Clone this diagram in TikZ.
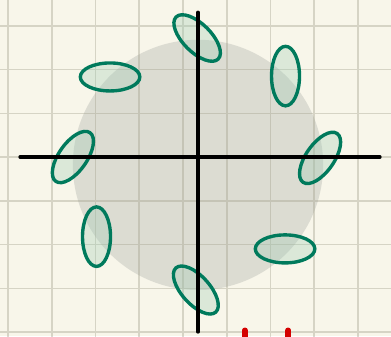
\documentclass[tikz,border=0pt]{standalone}
\usepackage{xcolor}
\usepackage{tikz}
\usetikzlibrary{shapes.geometric, positioning}
\definecolor{paper}{HTML}{F8F6EA}
\definecolor{gridcolor}{HTML}{A09E8A}
\definecolor{diskcolor}{HTML}{DCDCD2}
\definecolor{ringgreen}{HTML}{007A5C}
\definecolor{ringfill}{HTML}{9ECBB5}
\definecolor{markred}{HTML}{D40000}

\begin{document}
\begin{tikzpicture}[
    blob/.style={ellipse, draw=ringgreen, fill=ringfill, fill opacity=0.32,
                 line width=2.2pt, minimum width=1.36cm, minimum height=0.64cm,
                 inner sep=0pt},
    axis/.style={line width=2.1pt, line cap=round, color=black},
    gridline/.style={line width=1pt, color=gridcolor, opacity=0.38},
    redstroke/.style={line width=3.6pt, line cap=round, color=markred}
]

% Frame
\useasboundingbox (-4.526,-4.091) rectangle (4.411,3.589);
\clip (-4.526,-4.091) rectangle (4.411,3.589);
\fill[paper] (-4.526,-4.091) rectangle (4.411,3.589);

% Disk
\fill[diskcolor] (0,-0.18) circle (2.86cm);

% Grid
\draw[gridline, xshift=0.657cm] (-6,-5) grid (5,4);

% Ellipses
\node[blob, rotate=-45] (top) at (-0.02,2.72) {};
\node[blob] (upleft) at (-2.01,1.83) {};
\node[blob, rotate=90] (upright) at (2.0,1.85) {};
\node[blob, rotate=55] (right) at (2.79,-0.02) {};
\node[blob, rotate=55] (left) at (-2.86,0.0) {};
\node[blob, rotate=90] (lowleft) at (-2.32,-1.82) {};
\node[blob] (lowright) at (1.99,-2.10) {};
\node[blob, rotate=-48] (bottom) at (-0.05,-3.04) {};

% Axes
\coordinate (xmin) at (-4.07,0);
\coordinate (xmax) at (4.16,0);
\coordinate (ymin) at (0,-4.0);
\coordinate (ymax) at (0,3.31);
\draw[axis] (xmin) -- (xmax);
\draw[axis] (ymin) -- (ymax);

% Red marks
\coordinate (ra) at (1.07,-3.96);
\coordinate (rb) at (2.06,-3.96);
\draw[redstroke] (ra) -- ++(0,-0.6);
\draw[redstroke] (rb) -- ++(0,-0.6);

\end{tikzpicture}
\end{document}
